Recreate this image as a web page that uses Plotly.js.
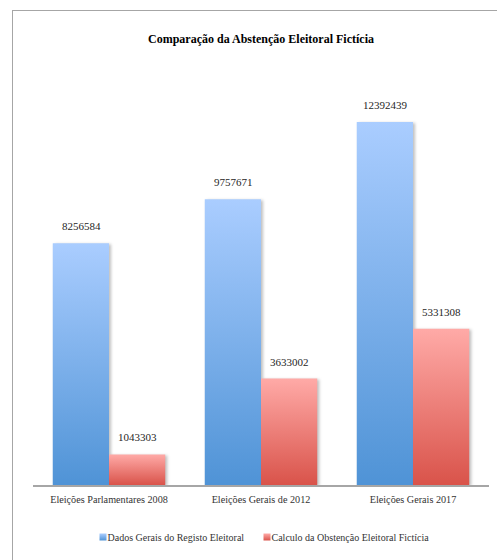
<!DOCTYPE html>
<html>
<head>
<meta charset="utf-8">
<script src="https://cdn.plot.ly/plotly-3.0.1.min.js"></script>
<style>
  html, body { margin:0; padding:0; background:#fff; }
  #wrap { position:relative; width:497px; height:560px; overflow:hidden; }
  #chart { position:absolute; left:0; top:0; width:497px; height:560px; }
  #frame { position:absolute; left:12px; top:10px; width:497px; height:560px;
           border-left:1.5px solid #a6a6a6; border-top:1.5px solid #a6a6a6; pointer-events:none; }
</style>
</head>
<body>
<div id="wrap"><div id="chart"></div><div id="frame"></div></div>
<script>
const categories = ["Eleições Parlamentares 2008", "Eleições Gerais de 2012", "Eleições Gerais 2017"];
const seriesNames = ["Dados Gerais do Registo Eleitoral", "Calculo da Obstenção Eleitoral Fictícia"];
const registo = [8256584, 9757671, 12392439];
const abstencao = [1043303, 3633002, 5331308];
const titleText = "Comparação da Abstenção Eleitoral Fictícia";

const FONT = "Liberation Serif, Times New Roman, serif";

const traces = [
  { type:"bar", name:seriesNames[0], x:categories, y:registo,
    marker:{ color:"#7aaee8" }, hoverinfo:"skip" },
  { type:"bar", name:seriesNames[1], x:categories, y:abstencao,
    marker:{ color:"#ee8580" }, hoverinfo:"skip" }
];

const annotations = [];
const series = [registo, abstencao];
series.forEach((vals, s) => {
  vals.forEach((v, i) => {
    annotations.push({
      x: categories[i], y: v, xref:"x", yref:"y",
      text: String(v), showarrow:false,
      xanchor:"center", yanchor:"middle",
      xshift: s === 0 ? -28 : 28, yshift: 17,
      font:{ family:FONT, size:11, color:"#262626" }
    });
  });
});

const layout = {
  width:497, height:560,
  margin:{ l:33, r:8, t:75, b:75 },
  paper_bgcolor:"#fff", plot_bgcolor:"#fff",
  title:{ text:titleText, x:0.5, xref:"paper", y:1-39/560, yanchor:"middle",
          font:{ family:FONT, size:12, color:"#000", weight:"bold" } },
  barmode:"group", bargap:0.26, bargroupgap:0,
  xaxis:{ showline:true, linecolor:"#a6a6a6", linewidth:1.5, ticks:"",
          showgrid:false, zeroline:false, ticklabelstandoff:4,
          tickfont:{ family:FONT, size:10.2, color:"#333" } },
  yaxis:{ visible:false, range:[0, 14000000], showgrid:false, zeroline:false },
  showlegend:true,
  legend:{ orientation:"h", x:(67.5-33)/456, xanchor:"left", y:-0.127, yanchor:"middle",
           font:{ family:FONT, size:10, color:"#333" }, itemwidth:30,
           traceorder:"normal" },
  annotations: annotations
};

Plotly.newPlot("chart", traces, layout, { displayModeBar:false, staticPlot:true }).then(gd => {
  const svg = gd.querySelector("svg.main-svg");
  const NS = "http://www.w3.org/2000/svg";
  let defs = svg.querySelector("defs");
  if (!defs) { defs = document.createElementNS(NS, "defs"); svg.insertBefore(defs, svg.firstChild); }
  function grad(id, top, bottom) {
    const g = document.createElementNS(NS, "linearGradient");
    g.setAttribute("id", id);
    g.setAttribute("x1", "0"); g.setAttribute("y1", "0");
    g.setAttribute("x2", "0"); g.setAttribute("y2", "1");
    [[0, top], [1, bottom]].forEach(([o, c]) => {
      const s = document.createElementNS(NS, "stop");
      s.setAttribute("offset", o); s.setAttribute("stop-color", c);
      g.appendChild(s);
    });
    defs.appendChild(g);
  }
  grad("gBlue", "#aacdff", "#4f93d6");
  grad("gRed", "#ffaaa7", "#d9534a");
  const ids = ["gBlue", "gRed"];
  gd.querySelectorAll(".barlayer .trace.bars").forEach((t, i) => {
    t.querySelectorAll("path").forEach(p => {
      p.style.fill = "url(#" + ids[i] + ")";
      p.style.filter = "drop-shadow(2px 1px 1.5px rgba(0,0,0,0.25))";
    });
  });
  const items = gd.querySelectorAll(".legend .traces");
  let firstX = null;
  items.forEach((t, i) => {
    t.querySelectorAll(".legendpoints path").forEach(p => {
      p.setAttribute("d", "M3.5,3.5H-3.5V-3.5H3.5Z");
      p.setAttribute("transform", "translate(35.5,0)");
      p.style.fill = "url(#" + ids[i] + ")";
    });
    const tr = t.getAttribute("transform") || "";
    const m = tr.match(/translate\(\s*([-\d.]+)[ ,]+([-\d.]+)\s*\)/);
    if (m) {
      const x = parseFloat(m[1]), y = parseFloat(m[2]);
      if (firstX === null) firstX = x;
      else t.setAttribute("transform", "translate(" + (firstX + 164 * i) + "," + y + ")");
    }
  });
});
</script>
</body>
</html>
